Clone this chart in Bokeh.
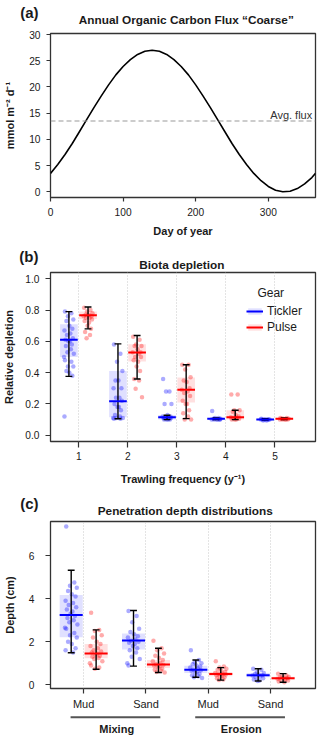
from bokeh.plotting import figure
from bokeh.layouts import column
from bokeh.models import (Range1d, FixedTicker, Label, Span, Legend, LegendItem,
                          PrintfTickFormatter)
from bokeh.embed import file_html
from bokeh.resources import INLINE

FONT = "Liberation Sans"
BLUE = "#0000FF"
RED = "#FF0000"
INK = "#1a1a1a"

# ---------------- Panel (a): annual organic carbon flux ----------------
day_of_year = [0, 10, 20, 30, 40, 50, 60, 70, 80, 90, 100, 110, 120, 130, 140, 150,
               160, 170, 180, 190, 200, 210, 220, 230, 240, 250, 260, 270, 280, 290,
               300, 310, 320, 330, 340, 350, 360, 365]
oc_flux = [3.5, 5.2, 7.1, 9.2, 11.5, 13.8, 16.1, 18.3, 20.4, 22.3, 23.9, 25.2, 26.2,
           26.8, 27.0, 26.8, 26.2, 25.2, 23.9, 22.3, 20.4, 18.3, 16.1, 13.8, 11.5, 9.2,
           7.1, 5.2, 3.5, 2.1, 1.0, 0.3, 0.0, 0.1, 0.6, 1.5, 2.7, 3.5]
avg_flux = 13.5
a_xticks = [0, 100, 200, 300]
a_yticks = [0, 5, 10, 15, 20, 25, 30]

# ---------------- Panel (b): biota depletion ----------------
frequency = [1, 2, 3, 4, 5]
tickler_q1 = [0.50, 0.115, 0.100, 0.100, 0.097]
tickler_q3 = [0.71, 0.410, 0.130, 0.110, 0.105]
tickler_med = [0.61, 0.217, 0.115, 0.105, 0.100]
tickler_lo = [0.376, 0.105, 0.100, 0.100, 0.097]
tickler_hi = [0.79, 0.584, 0.128, 0.110, 0.105]
tickler_pts = [
    [0.79, 0.78, 0.76, 0.74, 0.73, 0.70, 0.68, 0.67, 0.65, 0.64, 0.62, 0.61, 0.60, 0.60,
     0.58, 0.57, 0.55, 0.53, 0.52, 0.50, 0.48, 0.47, 0.44, 0.44, 0.41, 0.40, 0.38, 0.12],
    [0.58, 0.52, 0.47, 0.41, 0.35, 0.35, 0.30, 0.30, 0.24, 0.24, 0.22, 0.20, 0.18, 0.18,
     0.16, 0.13, 0.12, 0.11, 0.11, 0.11, 0.105, 0.105],
    [0.36, 0.28, 0.28, 0.20, 0.20, 0.13, 0.12, 0.12, 0.11, 0.11, 0.11, 0.11, 0.10, 0.10,
     0.10, 0.10],
    [0.155, 0.11, 0.11, 0.105, 0.105, 0.10, 0.10, 0.10, 0.10, 0.10, 0.10],
    [0.105, 0.10, 0.10, 0.10, 0.10, 0.10, 0.10, 0.10, 0.095, 0.095],
]
pulse_q1 = [0.743, 0.471, 0.210, 0.100, 0.100]
pulse_q3 = [0.790, 0.582, 0.369, 0.160, 0.110]
pulse_med = [0.767, 0.529, 0.291, 0.115, 0.105]
pulse_lo = [0.680, 0.359, 0.106, 0.100, 0.100]
pulse_hi = [0.820, 0.637, 0.450, 0.160, 0.110]
pulse_pts = [
    [0.815, 0.80, 0.79, 0.78, 0.77, 0.77, 0.76, 0.76, 0.75, 0.75, 0.74, 0.73, 0.72, 0.70,
     0.68, 0.66, 0.64, 0.62],
    [0.63, 0.61, 0.58, 0.57, 0.57, 0.55, 0.53, 0.53, 0.52, 0.50, 0.50, 0.48, 0.47, 0.44,
     0.41, 0.36, 0.35, 0.297, 0.242],
    [0.45, 0.45, 0.42, 0.37, 0.35, 0.34, 0.30, 0.29, 0.28, 0.27, 0.25, 0.22, 0.20, 0.20,
     0.16, 0.14, 0.12, 0.10, 0.10],
    [0.26, 0.26, 0.16, 0.16, 0.15, 0.13, 0.12, 0.115, 0.11, 0.11, 0.105, 0.10, 0.10, 0.10],
    [0.11, 0.11, 0.105, 0.105, 0.105, 0.10, 0.10, 0.10, 0.10, 0.10],
]
b_yticks = [0.0, 0.2, 0.4, 0.6, 0.8, 1.0]

# ---------------- Panel (c): penetration depth ----------------
sediment = ["Mud", "Sand", "Mud", "Sand"]
process = ["Mixing", "Erosion"]
c_pos = [1, 2, 3, 4]
tick_d_q1 = [2.21, 1.64, 0.55, 0.35]
tick_d_q3 = [4.17, 2.38, 0.88, 0.55]
tick_d_med = [3.24, 2.06, 0.70, 0.45]
tick_d_lo = [1.49, 0.87, 0.35, 0.18]
tick_d_hi = [5.32, 3.45, 1.15, 0.75]
tick_d_pts = [
    [7.35, 4.75, 4.6, 4.5, 4.35, 4.2, 4.1, 3.9, 3.8, 3.7, 3.6, 3.5, 3.4, 3.3, 3.2, 3.1,
     3.0, 2.9, 2.8, 2.65, 2.6, 2.4, 2.3, 2.2, 2.0, 1.9, 1.7, 1.6, 1.5],
    [3.43, 3.2, 2.9, 2.6, 2.45, 2.35, 2.25, 2.2, 2.1, 2.05, 2.0, 1.95, 1.9, 1.8, 1.7,
     1.6, 1.5, 1.3, 1.2, 1.0, 0.9],
    [1.6, 1.15, 1.05, 1.0, 0.95, 0.9, 0.85, 0.8, 0.75, 0.7, 0.68, 0.65, 0.6, 0.55, 0.5,
     0.45, 0.4, 0.35, 0.32],
    [0.75, 0.7, 0.6, 0.55, 0.5, 0.48, 0.45, 0.43, 0.4, 0.35, 0.3, 0.25, 0.2, 0.18],
]
pulse_d_q1 = [1.23, 0.78, 0.40, 0.25]
pulse_d_q3 = [1.90, 1.15, 0.60, 0.38]
pulse_d_med = [1.46, 0.94, 0.50, 0.30]
pulse_d_lo = [0.72, 0.57, 0.22, 0.12]
pulse_d_hi = [2.55, 1.70, 0.80, 0.52]
pulse_d_pts = [
    [3.35, 2.55, 2.5, 2.3, 2.2, 2.0, 1.9, 1.8, 1.7, 1.6, 1.55, 1.5, 1.45, 1.4, 1.35, 1.3,
     1.25, 1.2, 1.1, 1.0, 0.9, 0.8, 0.75],
    [2.05, 1.7, 1.6, 1.45, 1.35, 1.25, 1.15, 1.1, 1.0, 0.95, 0.93, 0.9, 0.85, 0.8, 0.75,
     0.7, 0.65, 0.6, 0.57],
    [1.1, 0.85, 0.8, 0.75, 0.7, 0.65, 0.6, 0.55, 0.52, 0.5, 0.48, 0.45, 0.42, 0.4, 0.35,
     0.3, 0.25, 0.22],
    [0.52, 0.45, 0.4, 0.38, 0.35, 0.33, 0.3, 0.28, 0.25, 0.22, 0.2, 0.15, 0.12],
]
c_yticks = [0, 2, 4, 6]

# fixed (non-random) horizontal spread pattern for the dots
JIT = [-0.08, 0.05, -0.02, 0.09, -0.05, 0.01, 0.07, -0.09, 0.03, -0.04, 0.08, -0.07,
       0.02, -0.01, 0.06, -0.06, 0.04, -0.03, 0.10, -0.10]

W = 320
LB, RB = 49, 5   # left / right borders shared by all stacked figures
TITLE_SIZE = "11.8px"
TAG_SIZE = "15px"


def make_fig(h, xr, yr, top, bottom):
    p = figure(width=W, height=h, x_range=xr, y_range=yr, output_backend="svg",
               toolbar_location=None, title=None, min_border_left=LB, min_border_right=RB,
               min_border_top=top, min_border_bottom=bottom)
    p.outline_line_color = "#333333"
    p.outline_line_width = 1.3
    p.background_fill_color = "white"
    p.border_fill_color = "white"
    p.ygrid.grid_line_color = None
    p.xgrid.grid_line_color = None
    for ax in p.axis:
        ax.axis_line_color = None
        ax.major_tick_line_color = "#333333"
        ax.major_tick_line_width = 1.2
        ax.major_tick_in = 0
        ax.major_tick_out = 4
        ax.minor_tick_line_color = None
        ax.major_label_text_font = FONT
        ax.major_label_text_font_size = "10.2px"
        ax.major_label_text_color = INK
        ax.major_label_standoff = 6
        ax.axis_label_text_font = FONT
        ax.axis_label_text_font_style = "bold"
        ax.axis_label_text_font_size = "11px"
        ax.axis_label_text_color = INK
        ax.axis_label_standoff = 6
    return p


def strip_fig(h, xr, yr, with_tag_axis=False):
    p = figure(width=W, height=h, x_range=xr, y_range=yr, output_backend="svg",
               toolbar_location=None, title=None, x_axis_type=None,
               y_axis_type="linear" if with_tag_axis else None,
               min_border_left=LB, min_border_right=RB, min_border_top=0,
               min_border_bottom=0)
    p.outline_line_color = None
    p.grid.grid_line_color = None
    p.background_fill_color = "white"
    p.border_fill_color = "white"
    return p


def label(p, text, x, y, size=TITLE_SIZE, style="bold", align="center",
          baseline="middle", color=INK):
    p.add_layout(Label(x=x, y=y, text=text, text_font=FONT, text_font_size=size,
                       text_font_style=style, text_align=align, text_baseline=baseline,
                       text_color=color))


def header(h, tag, tag_y, title, title_x, title_y):
    # x in page pixels inside the frame (49..315), y in pixels from the strip top
    p = strip_fig(h, Range1d(LB, W - RB), Range1d(h, 0), with_tag_axis=True)
    ax = p.yaxis[0]
    ax.ticker = FixedTicker(ticks=[tag_y])
    ax.major_label_overrides = {tag_y: tag}
    ax.axis_line_color = None
    ax.major_tick_line_color = None
    ax.minor_tick_line_color = None
    ax.major_tick_out = 0
    ax.major_tick_in = 0
    ax.major_label_standoff = 12
    ax.major_label_text_font = FONT
    ax.major_label_text_font_style = "bold"
    ax.major_label_text_font_size = TAG_SIZE
    ax.major_label_text_color = INK
    label(p, title, title_x, title_y)
    return p


def draw_group(p, centers, offset, width, cap, q1, q3, med, lo, hi, pts, color):
    xs = [c + offset for c in centers]
    box = p.quad(left=[x - width / 2 for x in xs], right=[x + width / 2 for x in xs],
                 bottom=q1, top=q3, fill_color=color, fill_alpha=0.12, line_color=None)
    px, py = [], []
    for x, vals in zip(xs, pts):
        for i, v in enumerate(vals):
            px.append(x + JIT[i % len(JIT)])
            py.append(v)
    p.scatter(px, py, size=4.5, fill_color=color, fill_alpha=0.33, line_color=None)
    p.segment(x0=xs, y0=lo, x1=xs, y1=hi, line_color="black", line_width=1.4)
    p.segment(x0=[x - cap for x in xs], y0=lo, x1=[x + cap for x in xs], y1=lo,
              line_color="black", line_width=1.4)
    p.segment(x0=[x - cap for x in xs], y0=hi, x1=[x + cap for x in xs], y1=hi,
              line_color="black", line_width=1.4)
    medr = p.segment(x0=[x - width / 2 for x in xs], y0=med, x1=[x + width / 2 for x in xs],
                     y1=med, line_color=color, line_width=2)
    return box, medr


# ======== Panel A ========
hA = header(30, "(a)", 12, "Annual Organic Carbon Flux \u201cCoarse\u201d", 185.3, 19)

pA = make_fig(210, Range1d(0, 365), Range1d(-1.1, 30.2), 3, 43)
pA.xaxis.ticker = FixedTicker(ticks=a_xticks)
pA.yaxis.ticker = FixedTicker(ticks=a_yticks)
pA.xaxis.axis_label = "Day of year"
pA.yaxis.axis_label = "mmol m\u207b\u00b2 d\u207b\u00b9"
pA.yaxis.axis_label_standoff = 10
pA.add_layout(Span(location=avg_flux, dimension="width", line_color="#9a9a9a",
                   line_dash="5 3", line_width=1.2))
pA.line(day_of_year, oc_flux, line_color="black", line_width=1.6)
label(pA, "Avg. flux", 360.5, 14.7, size="11px", style="normal", align="right",
      baseline="alphabetic", color="#333333")

# ======== Panel B ========
hB = header(31, "(b)", 16, "Biota depletion", 180.8, 24)

pB = make_fig(217, Range1d(0.425, 5.826), Range1d(-0.04, 1.04), 1, 47)
pB.xaxis.ticker = FixedTicker(ticks=frequency)
pB.yaxis.ticker = FixedTicker(ticks=b_yticks)
pB.yaxis.formatter = PrintfTickFormatter(format="%.1f")
pB.xaxis.major_tick_out = 6
pB.xaxis.major_label_standoff = 4
pB.xaxis.axis_label_standoff = 10
pB.yaxis.major_tick_out = 5
pB.yaxis.axis_label_standoff = 7
pB.xaxis.axis_label = "Trawling frequency (y\u207b\u00b9)"
pB.yaxis.axis_label = "Relative depletion"
pB.xgrid.ticker = FixedTicker(ticks=frequency)
pB.xgrid.grid_line_color = "#c8c8c8"
pB.xgrid.grid_line_dash = "1 2"
tb, tm = draw_group(pB, frequency, -0.2, 0.36, 0.07, tickler_q1, tickler_q3, tickler_med,
                    tickler_lo, tickler_hi, tickler_pts, BLUE)
pb_, pm = draw_group(pB, frequency, 0.19, 0.36, 0.07, pulse_q1, pulse_q3, pulse_med,
                     pulse_lo, pulse_hi, pulse_pts, RED)
leg = Legend(items=[LegendItem(label="Tickler", renderers=[tb, tm]),
                    LegendItem(label="Pulse", renderers=[pb_, pm])],
             location=(196, 106), padding=0, spacing=0, margin=0,
             glyph_width=17, glyph_height=8, label_height=16, label_standoff=4,
             label_text_font=FONT, label_text_font_size="12px", label_text_color=INK,
             border_line_color=None, background_fill_alpha=0)
pB.add_layout(leg)
label(pB, "Gear", 4.642, 0.911, size="12px", style="normal", align="left")

# ======== Panel C ========
hC = header(30, "(c)", 15, "Penetration depth distributions", 184.2, 22.7)

cx0, cx1 = 0.468, 4.72
pC = make_fig(194, Range1d(cx0, cx1), Range1d(-0.17, 7.58), 3, 23)
pC.xaxis.ticker = FixedTicker(ticks=c_pos)
pC.xaxis.major_label_overrides = {k: v for k, v in zip(c_pos, sediment)}
pC.xaxis.major_label_text_font_size = "11px"
pC.xaxis.major_tick_out = 5
pC.xaxis.major_label_standoff = 4
pC.yaxis.ticker = FixedTicker(ticks=c_yticks)
pC.yaxis.major_tick_out = 5
pC.yaxis.major_label_standoff = 11
pC.yaxis.axis_label_standoff = 10
pC.yaxis.axis_label = "Depth (cm)"
pC.xgrid.ticker = FixedTicker(ticks=c_pos)
pC.xgrid.grid_line_color = "#c8c8c8"
pC.xgrid.grid_line_dash = "1 2"
draw_group(pC, c_pos, -0.2, 0.37, 0.055, tick_d_q1, tick_d_q3, tick_d_med, tick_d_lo,
           tick_d_hi, tick_d_pts, BLUE)
draw_group(pC, c_pos, 0.2, 0.37, 0.055, pulse_d_q1, pulse_d_q3, pulse_d_med, pulse_d_lo,
           pulse_d_hi, pulse_d_pts, RED)

# footer with grouping brackets, sharing panel C's x scale
fC = strip_fig(26, Range1d(cx0, cx1), Range1d(26, 0))
spans = [(0.79, 2.23), (2.79, 4.23)]
fC.segment(x0=[a for a, b in spans], y0=[4.7, 4.7], x1=[b for a, b in spans], y1=[4.7, 4.7],
           line_color="#555555", line_width=2)
for (a, b), name in zip(spans, process):
    label(fC, name, (a + b) / 2 + 0.02, 16, size="11px")

layout = column(hA, pA, hB, pB, hC, pC, fC, spacing=0)
open("out.html", "w").write(file_html(layout, INLINE))
